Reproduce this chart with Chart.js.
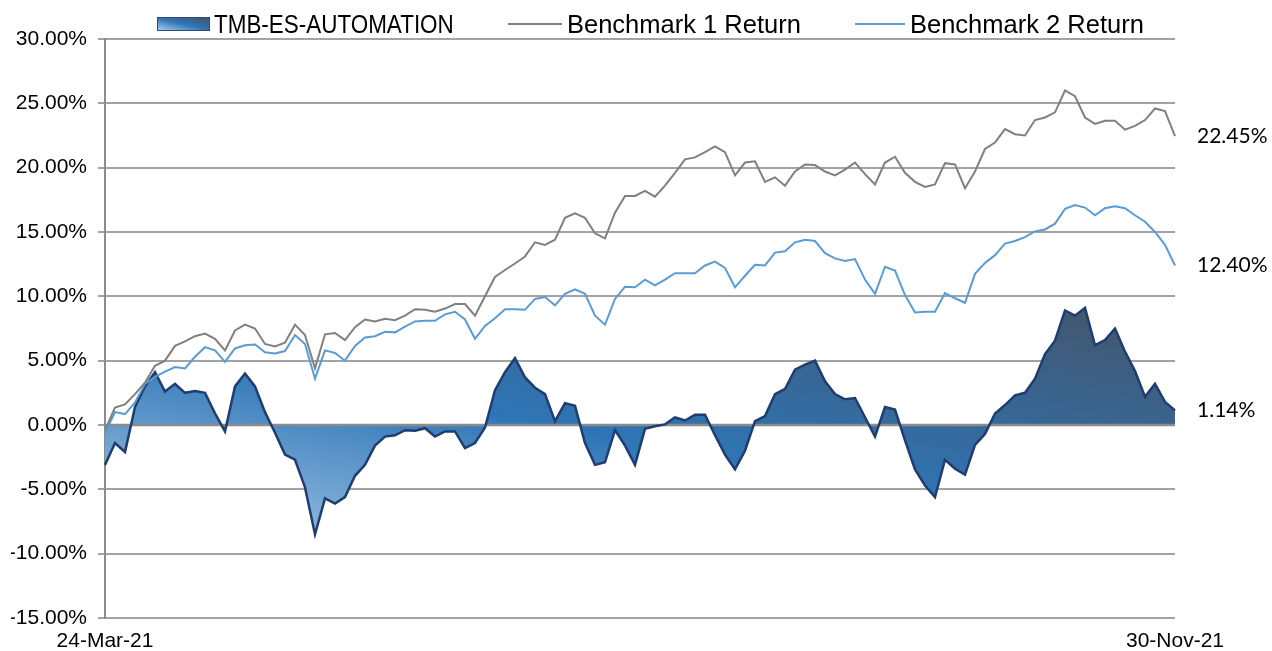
<!DOCTYPE html>
<html>
<head>
<meta charset="utf-8">
<title>TMB-ES-AUTOMATION</title>
<script src="https://cdn.jsdelivr.net/npm/chart.js@4.4.1/dist/chart.umd.min.js"></script>
<style>
  html, body { margin: 0; padding: 0; background: #fff; }
  #wrap { position: relative; width: 1272px; height: 651px; }
  #legend {
    position: absolute; left: 0; top: 0; width: 1272px; height: 40px;
    font-family: "Liberation Sans", Arial, sans-serif;
    font-size: 25.5px; color: #000;
  }
  .item { position: absolute; top: 10px; line-height: 28px; white-space: nowrap; transform-origin: left center; }
  .swatch {
    position: absolute; top: 17px; width: 51px; height: 12px;
    border: 1px solid #2f4a73;
    background: linear-gradient(to top right, #a7c9e8, #2e75b6 50%, #44546a);
  }
  .line { position: absolute; top: 23px; height: 2px; }
</style>
</head>
<body>
<div id="wrap">
  <canvas id="chart"></canvas>
  <div id="legend">
    <div class="swatch" style="left:157px"></div>
    <div class="item" style="left:214px;transform:scaleX(0.88)">TMB-ES-AUTOMATION</div>
    <div class="line" style="left:508px;width:54px;background:#7f7f7f"></div>
    <div class="item" style="left:567px">Benchmark 1 Return</div>
    <div class="line" style="left:855px;width:50px;background:#5b9bd5"></div>
    <div class="item" style="left:910px">Benchmark 2 Return</div>
  </div>
</div>
<script>
// cumulative returns in % (one value every ~10 px)
const fundReturn = [
  -3.1, -1.4, -2.1, 1.4, 3.0, 4.1, 2.6, 3.2, 2.5, 2.65,
  2.5, 0.9, -0.5, 3.0, 4.0, 3.0, 1.0, -0.6, -2.3, -2.7,
  -4.85, -8.5, -5.7, -6.1, -5.6, -3.95, -3.1, -1.6, -0.9, -0.8,
  -0.4, -0.45, -0.25, -0.9, -0.5, -0.5, -1.8, -1.4, -0.2, 2.7,
  4.1, 5.2, 3.7, 2.9, 2.4, 0.3, 1.7, 1.5, -1.4, -3.1,
  -2.9, -0.4, -1.6, -3.1, -0.3, -0.1, 0.05, 0.6, 0.35, 0.8,
  0.8, -0.8, -2.3, -3.45, -2.0, 0.3, 0.7, 2.4, 2.8, 4.3,
  4.7, 5.0, 3.4, 2.4, 2.0, 2.1, 0.6, -0.9, 1.4, 1.2,
  -1.2, -3.45, -4.7, -5.6, -2.7, -3.4, -3.85, -1.55, -0.7, 0.9,
  1.55, 2.3, 2.5, 3.6, 5.5, 6.55, 8.9, 8.5, 9.1, 6.2,
  6.6, 7.5, 5.7, 4.2, 2.2, 3.2, 1.8, 1.14
];
const bench1Return = [
  -0.4, 1.35, 1.6, 2.4, 3.3, 4.6, 5.0, 6.15, 6.5, 6.9,
  7.1, 6.7, 5.8, 7.35, 7.8, 7.5, 6.3, 6.1, 6.4, 7.8,
  7.0, 4.4, 7.05, 7.15, 6.6, 7.6, 8.2, 8.05, 8.25, 8.15,
  8.5, 9.0, 8.95, 8.8, 9.05, 9.4, 9.4, 8.5, 10.0, 11.5,
  12.05, 12.55, 13.1, 14.2, 14.0, 14.4, 16.1, 16.45, 16.1, 14.9,
  14.5, 16.5, 17.8, 17.8, 18.2, 17.75, 18.6, 19.6, 20.65, 20.8,
  21.2, 21.65, 21.2, 19.4, 20.4, 20.5, 18.9, 19.25, 18.6, 19.7,
  20.25, 20.2, 19.7, 19.4, 19.85, 20.4, 19.5, 18.7, 20.4, 20.85,
  19.6, 18.9, 18.5, 18.7, 20.35, 20.25, 18.4, 19.7, 21.45, 21.95,
  23.0, 22.6, 22.5, 23.7, 23.9, 24.3, 26.0, 25.55, 23.9, 23.4,
  23.65, 23.65, 22.95, 23.25, 23.7, 24.6, 24.4, 22.45
];
const bench2Return = [
  -0.65, 1.0, 0.85, 1.75, 3.2, 3.75, 4.15, 4.5, 4.4, 5.3,
  6.05, 5.8, 4.9, 5.95, 6.2, 6.25, 5.65, 5.55, 5.75, 7.0,
  6.3, 3.6, 5.8, 5.6, 5.0, 6.15, 6.8, 6.9, 7.25, 7.2,
  7.65, 8.05, 8.1, 8.1, 8.6, 8.8, 8.2, 6.7, 7.7, 8.3,
  9.0, 9.0, 8.95, 9.8, 9.95, 9.3, 10.2, 10.55, 10.2, 8.5,
  7.8, 9.8, 10.75, 10.7, 11.3, 10.85, 11.3, 11.8, 11.8, 11.8,
  12.4, 12.7, 12.2, 10.7, 11.6, 12.45, 12.4, 13.4, 13.5, 14.2,
  14.4, 14.3, 13.35, 12.95, 12.75, 12.9, 11.3, 10.2, 12.3, 12.0,
  10.1, 8.75, 8.8, 8.8, 10.25, 9.85, 9.5, 11.75, 12.6, 13.2,
  14.1, 14.3, 14.6, 15.05, 15.2, 15.65, 16.8, 17.1, 16.9, 16.3,
  16.85, 17.0, 16.85, 16.3, 15.8, 15.0, 14.0, 12.4
];
const startLabel = "24-Mar-21";
const endLabel = "30-Nov-21";
const days = fundReturn.map((v, i) => i);

// fill gradient: light bottom-left -> blue -> slate top-right (over the area's box)
function areaGradient(context) {
  const chart = context.chart;
  const area = chart.chartArea;
  if (!area) return "#2e75b6";
  const y = chart.scales.y;
  const yTop = y.getPixelForValue(Math.max(...fundReturn));
  const yBot = y.getPixelForValue(Math.min(...fundReturn));
  const w = area.right - area.left;
  const h = yBot - yTop;
  const k = 2 / (1 / (w * w) + 1 / (h * h));
  const g = chart.ctx.createLinearGradient(area.left, yBot, area.left + k / w, yBot - k / h);
  g.addColorStop(0, "#a7c9e8");
  g.addColorStop(0.45, "#2e75b6");
  g.addColorStop(1, "#44546a");
  return g;
}

// zero line drawn over the fill, under the lines
const zeroLine = {
  id: "zeroLine",
  beforeDatasetsDraw(chart) {
    const { ctx, chartArea, scales } = chart;
    const y0 = scales.y.getPixelForValue(0);
    ctx.save();
    ctx.strokeStyle = "#8c8c8c";
    ctx.lineWidth = 2.5;
    ctx.beginPath();
    ctx.moveTo(chartArea.left, y0);
    ctx.lineTo(chartArea.right, y0);
    ctx.stroke();
    ctx.restore();
  }
};

// last value written at the right of the plot
const endLabels = {
  id: "endLabels",
  afterDatasetsDraw(chart) {
    const { ctx, chartArea, scales } = chart;
    ctx.save();
    ctx.font = "21px Lato";
    ctx.fillStyle = "#000";
    ctx.textBaseline = "middle";
    ctx.textAlign = "left";
    chart.data.datasets.forEach((ds) => {
      const v = ds.data[ds.data.length - 1];
      ctx.fillText(v.toFixed(2) + "%", chartArea.right + 22, scales.y.getPixelForValue(v));
    });
    ctx.restore();
  }
};

Chart.defaults.font.family = "'Liberation Sans', Arial, sans-serif";
Chart.defaults.font.size = 21;
Chart.defaults.color = "#000";

new Chart(document.getElementById("chart"), {
  type: "line",
  data: {
    labels: days,
    datasets: [
      {
        label: "TMB-ES-AUTOMATION",
        data: fundReturn,
        borderColor: "#1f3d6e",
        borderWidth: 2.5,
        backgroundColor: areaGradient,
        fill: "origin",
        pointRadius: 0,
        tension: 0,
        order: 3
      },
      {
        label: "Benchmark 1 Return",
        data: bench1Return,
        borderColor: "#808080",
        borderWidth: 2,
        fill: false,
        pointRadius: 0,
        tension: 0,
        order: 1
      },
      {
        label: "Benchmark 2 Return",
        data: bench2Return,
        borderColor: "#5b9bd5",
        borderWidth: 2,
        fill: false,
        pointRadius: 0,
        tension: 0,
        order: 2
      }
    ]
  },
  options: {
    responsive: true,
    maintainAspectRatio: false,
    animation: false,
    devicePixelRatio: 1,
    layout: { padding: { left: 11, right: 97, top: 39, bottom: 0 } },
    plugins: {
      legend: { display: false },
      tooltip: { enabled: false },
      filler: { drawTime: "beforeDatasetsDraw" }
    },
    scales: {
      x: {
        type: "category",
        offset: false,
        grid: { display: false, drawTicks: false },
        border: { display: false },
        ticks: {
          autoSkip: false,
          maxRotation: 0,
          padding: 13,
          font: { size: 21, lineHeight: 1 },
          callback: (v, i, ticks) => (i === 0 ? startLabel : i === ticks.length - 1 ? endLabel : "")
        },
        afterFit: (scale) => { scale.height = 33; }
      },
      y: {
        min: -15,
        max: 30,
        ticks: {
          stepSize: 5,
          padding: 11,
          font: { size: 21, lineHeight: 1 },
          callback: (v) => v.toFixed(2) + "%"
        },
        grid: { color: "#a3a3a3", lineWidth: 2, tickLength: 7 },
        border: { display: true, color: "#8c8c8c", width: 2 },
        afterFit: (scale) => { scale.width = 94; }
      }
    }
  },
  plugins: [zeroLine, endLabels]
});
</script>
</body>
</html>
